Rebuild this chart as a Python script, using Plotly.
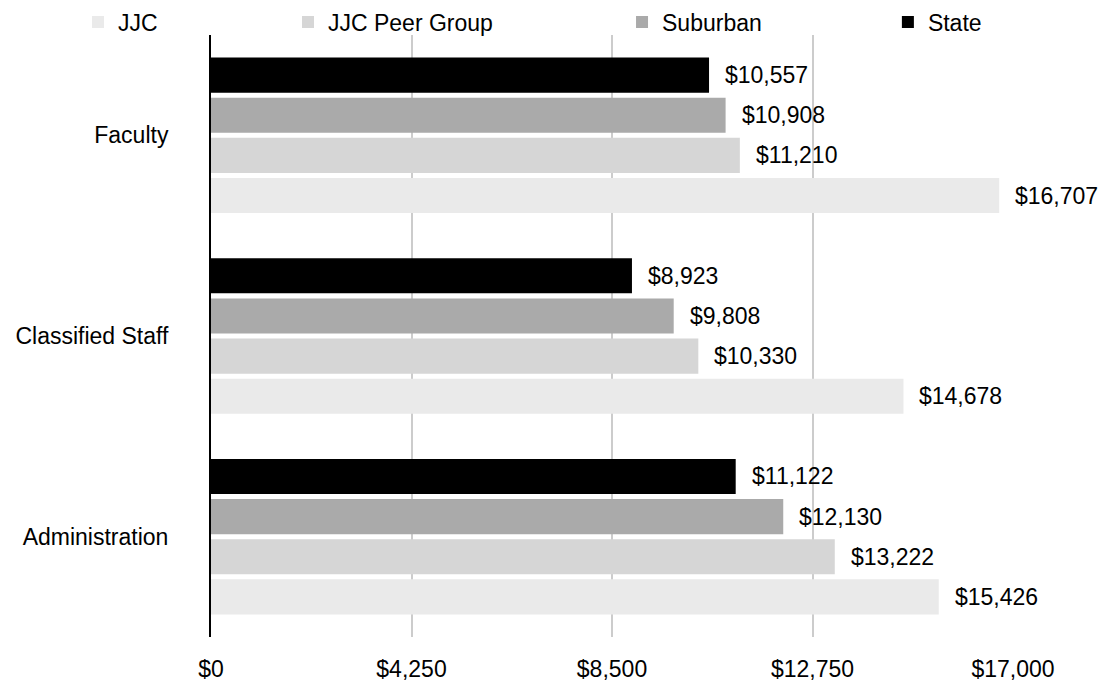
import plotly.graph_objects as go

# Categories listed top to bottom
categories = ["Faculty", "Classified Staff", "Administration"]

# Per-category values for each comparison group
jjc = [16707, 14678, 15426]
jjc_peer_group = [11210, 10330, 13222]
suburban = [10908, 9808, 12130]
state = [10557, 8923, 11122]

x_ticks = [0, 4250, 8500, 12750, 17000]
x_tick_labels = ["$0", "$4,250", "$8,500", "$12,750", "$17,000"]

FONT = "Liberation Sans, Arial, Helvetica, sans-serif"
FS = 23

# Drawn top-to-bottom inside each group (axis is reversed)
series = [
    ("State", state, "#000000", "legend4", 0.844),
    ("Suburban", suburban, "#aaaaaa", "legend3", 0.5125),
    ("JJC Peer Group", jjc_peer_group, "#d6d6d6", "legend2", 0.096),
    ("JJC", jjc, "#eaeaea", "legend", -0.1658),
]

fig = go.Figure()
n = len(series)
slot = 0.8 / n
annotations = []
for i, (name, vals, color, leg, _) in enumerate(series):
    fig.add_trace(go.Bar(
        name=name, y=categories, x=vals, orientation="h",
        marker=dict(color=color, line=dict(width=0)),
        legend=leg, hoverinfo="skip",
    ))
    offset = -0.4 + slot * (i + 0.5)
    for j, v in enumerate(vals):
        annotations.append(dict(
            x=v, y=j + offset, xref="x", yref="y",
            text=f"${v:,}", showarrow=False,
            xanchor="left", yanchor="middle", xshift=14,
            font=dict(family=FONT, size=FS, color="#000000"),
        ))

legend_common = dict(
    orientation="h", yanchor="middle", y=1.0216, xanchor="left",
    font=dict(family=FONT, size=FS, color="#000000"),
    bgcolor="rgba(0,0,0,0)", borderwidth=0,
)
legend_layout = {}
for name, vals, color, leg, lx in series:
    legend_layout[leg] = dict(legend_common, x=lx)

fig.update_layout(
    width=1106, height=682,
    margin=dict(l=211, r=93, t=35, b=45, autoexpand=False),
    paper_bgcolor="white", plot_bgcolor="white",
    barmode="group", bargap=0.2, bargroupgap=0.125,
    font=dict(family=FONT, size=FS, color="#000000"),
    showlegend=True,
    annotations=annotations,
    xaxis=dict(
        range=[0, 17000], tickvals=x_ticks, ticktext=x_tick_labels,
        showgrid=True, gridcolor="#cccccc", gridwidth=2,
        zeroline=False, showline=False, ticks="",
        ticklabelstandoff=16, automargin=False,
        tickfont=dict(family=FONT, size=FS, color="#000000"),
    ),
    yaxis=dict(
        range=[2.5, -0.5], type="category",
        showgrid=False, zeroline=False,
        showline=True, linecolor="#000000", linewidth=2,
        ticks="", ticklabelstandoff=36, automargin=False,
        tickfont=dict(family=FONT, size=FS, color="#000000"),
    ),
    **legend_layout,
)

fig.write_html("out.html")
